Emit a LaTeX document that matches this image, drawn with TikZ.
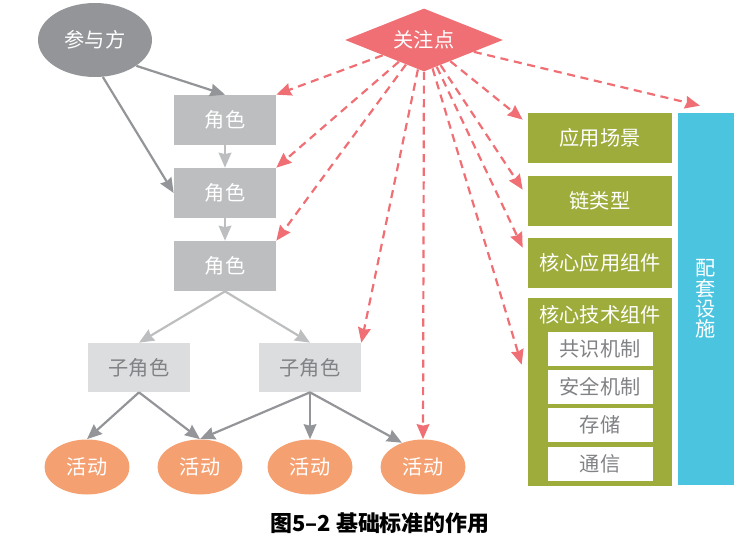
\documentclass[tikz,border=0pt]{standalone}
\usepackage{fontspec}
\setmainfont{Noto Sans CJK SC}
\usepackage{tikz}
\usetikzlibrary{arrows.meta,calc,positioning,shapes.geometric}
\definecolor{partygray}{HTML}{939598}
\definecolor{rolegray}{HTML}{BCBEC0}
\definecolor{subgray}{HTML}{DCDDDE}
\definecolor{subtext}{HTML}{808285}
\definecolor{actorange}{HTML}{F5A071}
\definecolor{focusred}{HTML}{EF6F74}
\definecolor{compgreen}{HTML}{9DAC3A}
\definecolor{supportblue}{HTML}{4BC4E0}

\begin{document}
\begin{tikzpicture}[x=0.02cm,y=-0.02cm,>={Stealth[length=8.5pt,width=7.2pt,inset=0.8pt]},
  every node/.style={font=\fontsize{11.5}{11.5}\selectfont,inner sep=0pt},
  party/.style={ellipse,fill=partygray,text=white,minimum width=2.28cm,minimum height=1.48cm},
  focus/.style={diamond,aspect=2.5,fill=focusred,text=white,minimum width=3.16cm,minimum height=1.26cm},
  role/.style={fill=rolegray,text=white,minimum width=2.04cm,minimum height=1cm},
  subrole/.style={fill=subgray,text=subtext,minimum width=2.04cm,minimum height=0.98cm},
  act/.style={ellipse,fill=actorange,text=white,minimum width=1.7cm,minimum height=1.1cm},
  comp/.style={fill=compgreen,text=white,minimum width=2.88cm,minimum height=1cm},
  techpart/.style={fill=white,text=subtext,minimum width=2.1cm,minimum height=0.68cm},
  darkarrow/.style={->,draw=partygray,line width=1.25pt},
  lightarrow/.style={->,draw=rolegray,line width=1.25pt},
  redarrow/.style={->,draw=focusred,line width=1.25pt,dash pattern=on 4.6pt off 3.2pt}]
  \useasboundingbox (0,0) rectangle (742,547);
  \node[party] (party) at (95,40) {参与方};
  \node[focus] (focus) at (424,40) {关注点};
  \node[role] (r1) at (225,120) {角色};
  \node[role] (r2) at (225,193) {角色};
  \node[role] (r3) at (225,266) {角色};
  \node[subrole] (s1) at (139,367.5) {子角色};
  \node[subrole] (s2) at (310,367.5) {子角色};
  \node[act] (a1) at (87,467) {活动};
  \node[act] (a2) at (200,467) {活动};
  \node[act] (a3) at (310,467) {活动};
  \node[act] (a4) at (423,467) {活动};
  \node[comp] (app) at (600,138) {应用场景};
  \node[comp] (chain) at (600,201) {链类型};
  \node[comp] (core) at (600,263) {核心应用组件};
  \node[comp,minimum height=3.76cm] (tech) at (600,392) {};
  \node[text=white] (techtitle) at (600,315) {核心技术组件};
  \node[techpart] (t1) at (600,349) {共识机制};
  \node[techpart] (t2) at (600,387) {安全机制};
  \node[techpart] (t3) at (600,424.5) {存储};
  \node[techpart] (t4) at (600,463.5) {通信};
  \node[fill=supportblue,text=white,minimum width=1.12cm,minimum height=7.44cm,align=center] (support) at (706,299) {配\\套\\设\\施};
  \node[font=\fontsize{12.5}{14}\selectfont\bfseries] (caption) at (380,523) {图5–2 基础标准的作用};

  \draw[darkarrow] (party.-32) -- (r1.north);
  \draw[darkarrow] (party.-78) -- (r2.west);
  \draw[lightarrow] (r1) -- (r2);
  \draw[lightarrow] (r2) -- (r3);
  \draw[lightarrow] (r3.south) -- (s1.north);
  \draw[lightarrow] (r3.south) -- (s2.north);
  \draw[darkarrow] (s1.south) -- (a1.north);
  \draw[darkarrow] (s1.south) -- (a2.north);
  \draw[darkarrow] (s2.south) -- (a2.north);
  \draw[darkarrow] (s2.south) -- (a3.north);
  \draw[darkarrow] (s2.south) -- (a4.131);

  \coordinate (toapp) at ([shift={(-5,7)}]app.north west);
  \coordinate (tochain) at ([shift={(-5,14)}]chain.north west);
  \coordinate (tocore) at ([shift={(-5,10)}]core.north west);
  \coordinate (totech) at ([shift={(-6,67)}]tech.north west);
  \coordinate (tosupport) at ([shift={(-6,-7)}]support.north);
  \draw[redarrow] (focus) -- (r1.north east);
  \draw[redarrow] (focus) -- (r2.north east);
  \draw[redarrow] (focus) -- (r3.north east);
  \draw[redarrow] (focus) -- (s2.north east);
  \draw[redarrow] (focus) -- (a4.north);
  \draw[redarrow] (focus) -- (totech);
  \draw[redarrow] (focus) -- (tocore);
  \draw[redarrow] (focus) -- (tochain);
  \draw[redarrow] (focus) -- (toapp);
  \draw[redarrow] (focus) -- (tosupport);
\end{tikzpicture}
\end{document}
